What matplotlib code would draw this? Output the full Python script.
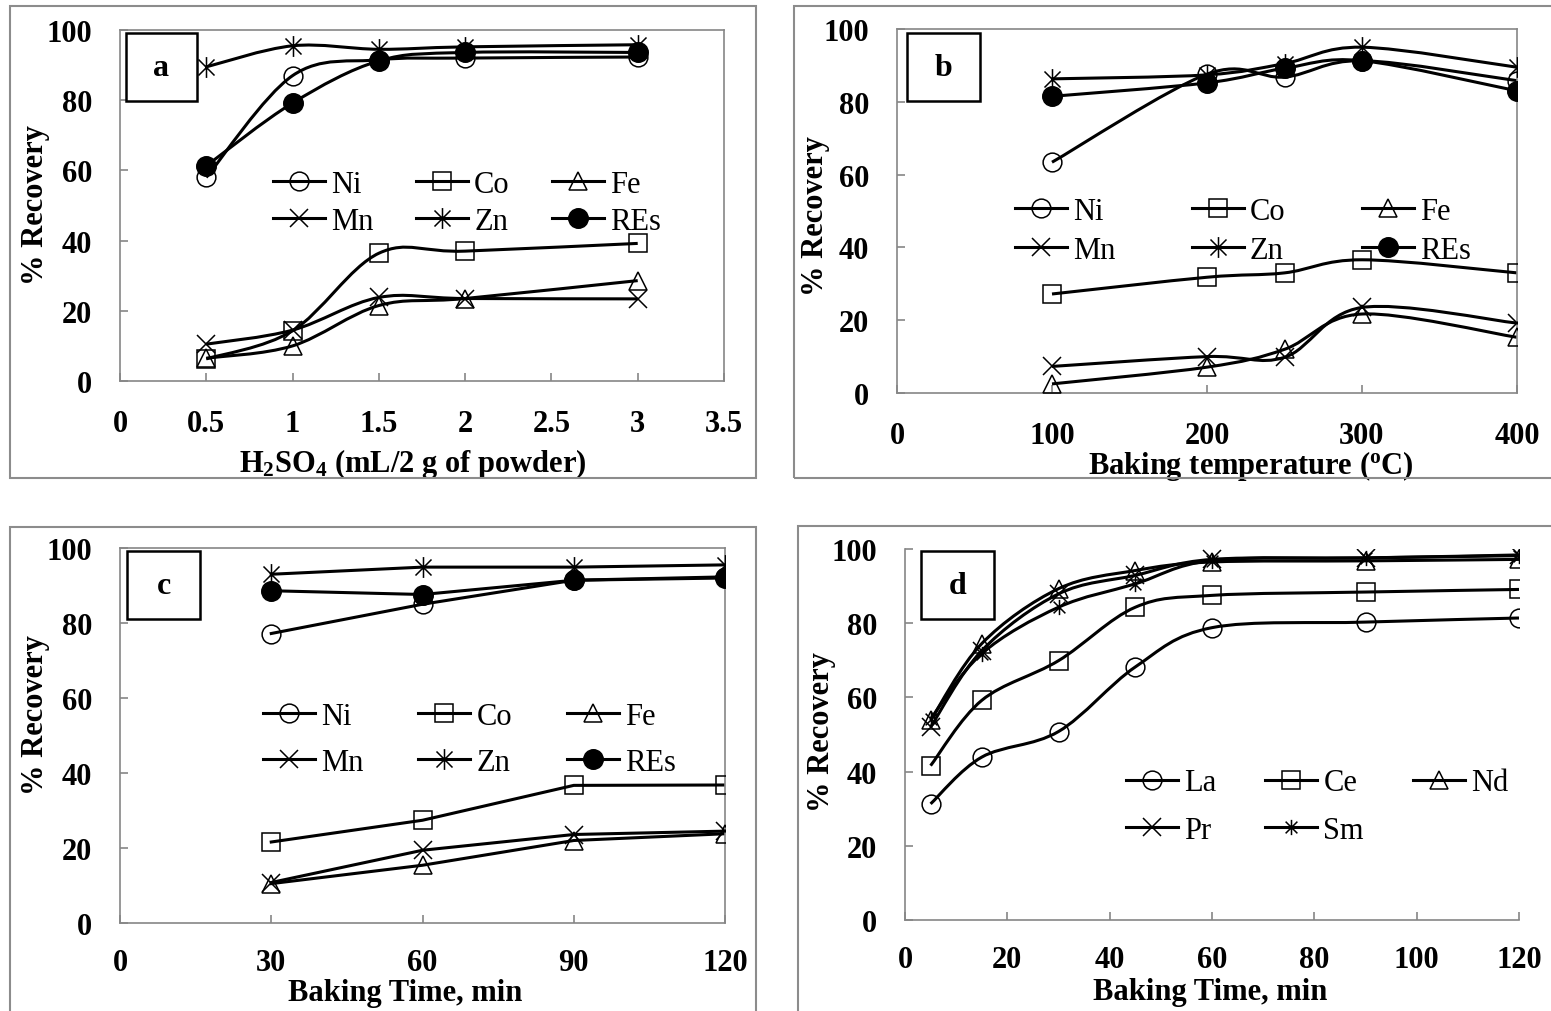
import numpy as np
import matplotlib.pyplot as plt
from matplotlib import ticker
from matplotlib.path import Path
from matplotlib.patches import PathPatch, Rectangle
from matplotlib.lines import Line2D

plt.rcParams['font.family'] = ['Liberation Serif', 'DejaVu Serif']
plt.rcParams['font.weight'] = 'bold'
plt.rcParams['axes.labelweight'] = 'bold'
plt.rcParams['mathtext.fontset'] = 'custom'
plt.rcParams['mathtext.rm'] = 'Liberation Serif:bold'
plt.rcParams['mathtext.default'] = 'rm'

# (a) acid dosage
acid_ml = [0.5, 1, 1.5, 2, 3]
a_ni = [58, 87, 91.5, 92, 92.3]
a_co = [6.3, 14.3, 36.4, 37, 39.2]
a_fe = [6.5, 10, 21.5, 23.5, 28.6]
a_mn = [10.5, 14.5, 23.8, 23.5, 23.4]
a_zn = [89.5, 95.5, 94.5, 95.2, 95.8]
a_res = [61.3, 79.2, 91.2, 93.6, 93.6]

# (b) baking temperature
temp_c = [100, 200, 250, 300, 400]
b_ni = [63.4, 87.6, 86.8, 91.3, 85.8]
b_co = [27.2, 31.8, 33, 36.6, 33]
b_fe = [2.5, 7.1, 12, 21.7, 15.3]
b_mn = [7.3, 10, 9.8, 23.5, 19.2]
b_zn = [86.3, 87.4, 90.5, 95, 89.5]
b_res = [81.5, 85.2, 89.2, 91.3, 83]

# (c) baking time, base metals
time_c = [30, 60, 90, 120]
c_ni = [77.2, 85, 91.4, 92.3]
c_co = [21.6, 27.4, 36.7, 36.8]
c_fe = [10.5, 15.4, 22, 23.8]
c_mn = [10.8, 19.4, 23.6, 24.5]
c_zn = [93, 94.9, 94.9, 95.5]
c_res = [88.6, 87.6, 91.4, 92]

# (d) baking time, rare earths
time_d = [5, 15, 30, 45, 60, 90, 120]
d_la = [31.3, 43.9, 50.8, 68.2, 78.8, 80.3, 81.4]
d_ce = [41.6, 59.2, 69.9, 84.3, 87.5, 88.4, 89.1]
d_nd = [53.8, 74.5, 89.3, 94.2, 96.5, 96.8, 97.2]
d_pr = [52, 72.6, 87.9, 92.9, 97.2, 97.6, 98.4]
d_sm = [54.2, 71.8, 84.3, 90.6, 96.9, 97.6, 98.2]

metals = ['Ni', 'Co', 'Fe', 'Mn', 'Zn', 'REs']
rare_earths = ['La', 'Ce', 'Nd', 'Pr', 'Sm']

W, H = 1551, 1012
LW = 2.2
GREY = '#868686'

# x with a vertical bar through it
asterisk = Path([(-1, -1), (1, 1), (-1, 1), (1, -1), (0, -1.3), (0, 1.3)],
                [Path.MOVETO, Path.LINETO] * 3)

marker_styles = {
    'Ni': dict(marker='o', ms=13.5, mfc='none'),
    'Co': dict(marker='s', ms=12.5, mfc='none'),
    'Fe': dict(marker='^', ms=13, mfc='none'),
    'Mn': dict(marker='x', ms=13),
    'Zn': dict(marker=asterisk, ms=15),
    'REs': dict(marker='o', ms=14, mfc='k'),
    'La': dict(marker='o', ms=13.5, mfc='none'),
    'Ce': dict(marker='s', ms=12.5, mfc='none'),
    'Nd': dict(marker='^', ms=13, mfc='none'),
    'Pr': dict(marker='x', ms=13),
    'Sm': dict(marker=asterisk, ms=11),
}


def px_rect(left, top, right, bottom):
    return [left / W, 1 - bottom / H, (right - left) / W, (bottom - top) / H]


def smooth_path(x, y):
    # Catmull-Rom style cubic Bezier through the points
    pts = np.column_stack([x, y]).astype(float)
    n = len(pts)
    verts = [pts[0]]
    codes = [Path.MOVETO]
    for i in range(n - 1):
        p0 = pts[max(i - 1, 0)]
        p1 = pts[i]
        p2 = pts[i + 1]
        p3 = pts[min(i + 2, n - 1)]
        verts += [p1 + (p2 - p0) / 6, p2 - (p3 - p1) / 6, p2]
        codes += [Path.CURVE4] * 3
    return Path(verts, codes)


def draw_series(ax, x, y, name, smooth=True):
    st = marker_styles[name]
    if smooth:
        ax.add_patch(PathPatch(smooth_path(x, y), fill=False, ec='k', lw=LW, zorder=2))
    else:
        ax.plot(x, y, color='k', lw=LW, zorder=2)
    ax.plot(x, y, ls='none', color='k', mec='k', mew=1.1, zorder=3, **st)


def style_axes(ax, xlim, xticks, full_box=True, xpad=20):
    ax.set_xlim(*xlim)
    ax.set_ylim(0, 100)
    ax.set_xticks(xticks)
    ax.set_yticks(np.arange(0, 101, 20))
    ax.xaxis.set_major_formatter(ticker.FormatStrFormatter('%g'))
    ax.tick_params(direction='in', length=6, width=1.2, color=GREY,
                   labelsize=22, pad=20)
    ax.tick_params(axis='x', pad=xpad)
    for side, sp in ax.spines.items():
        sp.set_color(GREY)
        sp.set_linewidth(1.2)
        if not full_box and side in ('top', 'right'):
            sp.set_visible(False)


def add_legend(ax, names, anchor, colspace, rowspace):
    order = [names[i] for i in (0, 3, 1, 4, 2, 5) if i < len(names)]
    handles = [Line2D([], [], color='k', lw=LW, mec='k', mew=1.1, **marker_styles[n])
               for n in order]
    ax.legend(handles, order, ncol=3, frameon=False, loc='upper left',
              bbox_to_anchor=anchor, borderaxespad=0, borderpad=0,
              handlelength=1.7, handletextpad=0.2, columnspacing=colspace,
              labelspacing=rowspace, prop={'size': 22, 'weight': 'normal'})


def panel_tag(fig, letter, left, top, right, bottom):
    fig.add_artist(Rectangle((left / W, 1 - bottom / H), (right - left) / W,
                             (bottom - top) / H, transform=fig.transFigure,
                             fc='white', ec='k', lw=1.8, zorder=5))
    fig.text((left + right) / 2 / W, 1 - (top + bottom) / 2 / H, letter,
             ha='center', va='center', fontsize=23, fontweight='bold', zorder=6)


def frame(fig, left, top, right, bottom):
    fig.add_artist(Rectangle((left / W, 1 - bottom / H), (right - left) / W,
                             (bottom - top) / H, transform=fig.transFigure,
                             fill=False, ec='#8c8c8c', lw=1.5))


fig = plt.figure(figsize=(W / 100, H / 100), dpi=100)

frame(fig, 10, 7, 756, 479)
frame(fig, 794, 7, 1560, 479)
frame(fig, 10, 528, 756, 1020)
frame(fig, 798, 527, 1560, 1020)

# panel a
ax = fig.add_axes(px_rect(120, 31, 724, 382))
for name, vals in zip(metals, [a_ni, a_co, a_fe, a_mn, a_zn, a_res]):
    draw_series(ax, acid_ml, vals, name)
style_axes(ax, (0, 3.5), np.arange(0, 3.51, 0.5))
ax.set_xlabel('H$_2$SO$_4$ (mL/2 g of powder)', fontsize=22)
ax.set_ylabel('% Recovery', fontsize=22)
ax.xaxis.set_label_coords(0.485, -0.185)
ax.yaxis.set_label_coords(-0.116, 0.504)
add_legend(ax, metals, (0.253, 0.601), 1.4, 0.26)
panel_tag(fig, 'a', 126, 34, 197, 102)

# panel b
ax = fig.add_axes(px_rect(897, 30, 1517, 394))
for name, vals in zip(metals, [b_ni, b_co, b_fe, b_mn, b_zn, b_res]):
    draw_series(ax, temp_c, vals, name)
style_axes(ax, (0, 400), [0, 100, 200, 300, 400])
ax.set_xlabel('Baking temperature ($^{o}$C)', fontsize=22)
ax.set_ylabel('% Recovery', fontsize=22)
ax.xaxis.set_label_coords(0.571, -0.151)
ax.yaxis.set_label_coords(-0.108, 0.49)
add_legend(ax, metals, (0.19, 0.539), 2.5, 0.32)
panel_tag(fig, 'b', 907, 34, 980, 102)

# panel c
ax = fig.add_axes(px_rect(120, 549, 725, 924))
for name, vals in zip(metals, [c_ni, c_co, c_fe, c_mn, c_zn, c_res]):
    draw_series(ax, time_c, vals, name, smooth=False)
style_axes(ax, (0, 120), [0, 30, 60, 90, 120], xpad=18)
ax.set_xlabel('Baking Time, min', fontsize=22)
ax.set_ylabel('% Recovery', fontsize=22)
ax.xaxis.set_label_coords(0.471, -0.148)
ax.yaxis.set_label_coords(-0.116, 0.557)
add_legend(ax, metals, (0.236, 0.589), 1.8, 0.55)
panel_tag(fig, 'c', 127, 552, 200, 620)

# panel d
ax = fig.add_axes(px_rect(905, 550, 1519, 921))
for name, vals in zip(rare_earths, [d_la, d_ce, d_nd, d_pr, d_sm]):
    draw_series(ax, time_d, vals, name)
style_axes(ax, (0, 120), np.arange(0, 121, 20), full_box=False, xpad=18)
ax.set_xlabel('Baking Time, min', fontsize=22)
ax.set_ylabel('% Recovery', fontsize=22)
ax.xaxis.set_label_coords(0.497, -0.154)
ax.yaxis.set_label_coords(-0.112, 0.51)
add_legend(ax, rare_earths, (0.36, 0.409), 1.6, 0.61)
panel_tag(fig, 'd', 921, 552, 994, 620)

fig.savefig('out.png', dpi=100)
